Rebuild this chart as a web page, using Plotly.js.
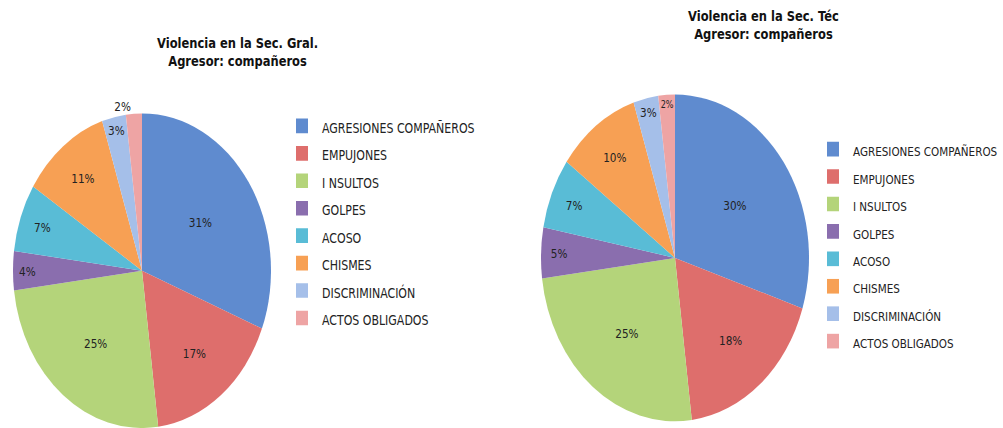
<!DOCTYPE html>
<html>
<head>
<meta charset="utf-8">
<script src="https://cdn.plot.ly/plotly-3.0.1.min.js"></script>
<style>
  html { margin: 0; padding: 0; background: #ffffff; overflow: hidden; }
  body { margin: 0; padding: 0; background: #ffffff; width: 1003px; height: 428px; }
  /* the reference picture is stretched vertically (its pies are ellipses) */
  #chart { width: 1003px; height: 351px; transform: scaleY(1.2194); transform-origin: 0 0; }
</style>
</head>
<body>
<div id="chart"></div>
<script>
// ---- data ----
const categories = ["AGRESIONES COMPAÑEROS", "EMPUJONES", "I NSULTOS", "GOLPES", "ACOSO", "CHISMES", "DISCRIMINACIÓN", "ACTOS OBLIGADOS"];
const valuesGral = [31, 17, 25, 4, 7, 11, 3, 2];
const valuesTec  = [30, 18, 25, 5, 7, 10, 3, 2];
const titleGral = "Violencia en la Sec. Gral.<br>Agresor: compañeros";
const titleTec  = "Violencia en la Sec. Téc<br>Agresor: compañeros";
const sliceColors = ["#5f8bcf", "#de6e6c", "#b4d47a", "#8a6eae", "#59bcd6", "#f7a054", "#a5bfe9", "#eea4a4"];

const FONT = "DejaVu Sans, Verdana, sans-serif";
const W = 1003, H = 351;

// legend entries: text drawn small while the legend font size (15) sets the row spacing
const wrap = (c, px) => '<span style="font-size:' + px + 'px">' + c + '</span>';
const labelsGral = categories.map(c => wrap(c, 11));
// keys of the second pie kept distinct so that it gets its own legend
const labelsTec = categories.map(c => wrap(c, 10.4) + " ");

const gral = {
  type: "pie",
  labels: labelsGral,
  values: valuesGral,
  sort: false,
  direction: "clockwise",
  rotation: 0,
  marker: { colors: sliceColors, line: { width: 0 } },
  texttemplate: "%{percent:.0%}",
  textposition: ["inside", "inside", "inside", "inside", "inside", "inside", "inside", "outside"],
  insidetextorientation: "horizontal",
  textfont: { family: FONT, size: 10.5, color: "#222222" },
  domain: { x: [13 / W, 271 / W], y: [0, 258 / H] },
  legend: "legend",
  hoverinfo: "percent"
};

const tec = {
  type: "pie",
  labels: labelsTec,
  values: valuesTec,
  sort: false,
  direction: "clockwise",
  rotation: 0,
  marker: { colors: sliceColors, line: { width: 0 } },
  texttemplate: "%{percent:.0%}",
  textposition: "inside",
  insidetextorientation: "horizontal",
  textfont: { family: FONT, size: 10.5, color: "#222222" },
  domain: { x: [541 / W, 809 / W], y: [5.5 / H, 273.5 / H] },
  legend: "legend2",
  hoverinfo: "percent"
};

const legendCommon = {
  orientation: "v",
  xanchor: "left",
  yanchor: "middle",
  bgcolor: "rgba(0,0,0,0)",
  font: { family: FONT, size: 15, color: "#222222" },
  traceorder: "normal"
};

const layout = {
  width: W,
  height: H,
  margin: { l: 0, r: 0, t: 0, b: 0, autoexpand: false },
  paper_bgcolor: "#ffffff",
  showlegend: true,
  legend: Object.assign({}, legendCommon, { x: 282 / W, y: 1 - 182 / H }),
  legend2: Object.assign({}, legendCommon, { x: 813 / W, y: 1 - 201 / H }),
  annotations: [
    { text: "<b>" + titleGral + "</b>", x: 237 / W, y: 1 - 42 / H, xref: "paper", yref: "paper",
      xanchor: "center", yanchor: "middle", showarrow: false, align: "center",
      font: { family: FONT, size: 11.5, color: "#111111" } },
    { text: "<b>" + titleTec + "</b>", x: 763 / W, y: 1 - 20.5 / H, xref: "paper", yref: "paper",
      xanchor: "center", yanchor: "middle", showarrow: false, align: "center",
      font: { family: FONT, size: 11.5, color: "#111111" } }
  ]
};

Plotly.newPlot("chart", [gral, tec], layout, { displayModeBar: false, staticPlot: true });
</script>
</body>
</html>
